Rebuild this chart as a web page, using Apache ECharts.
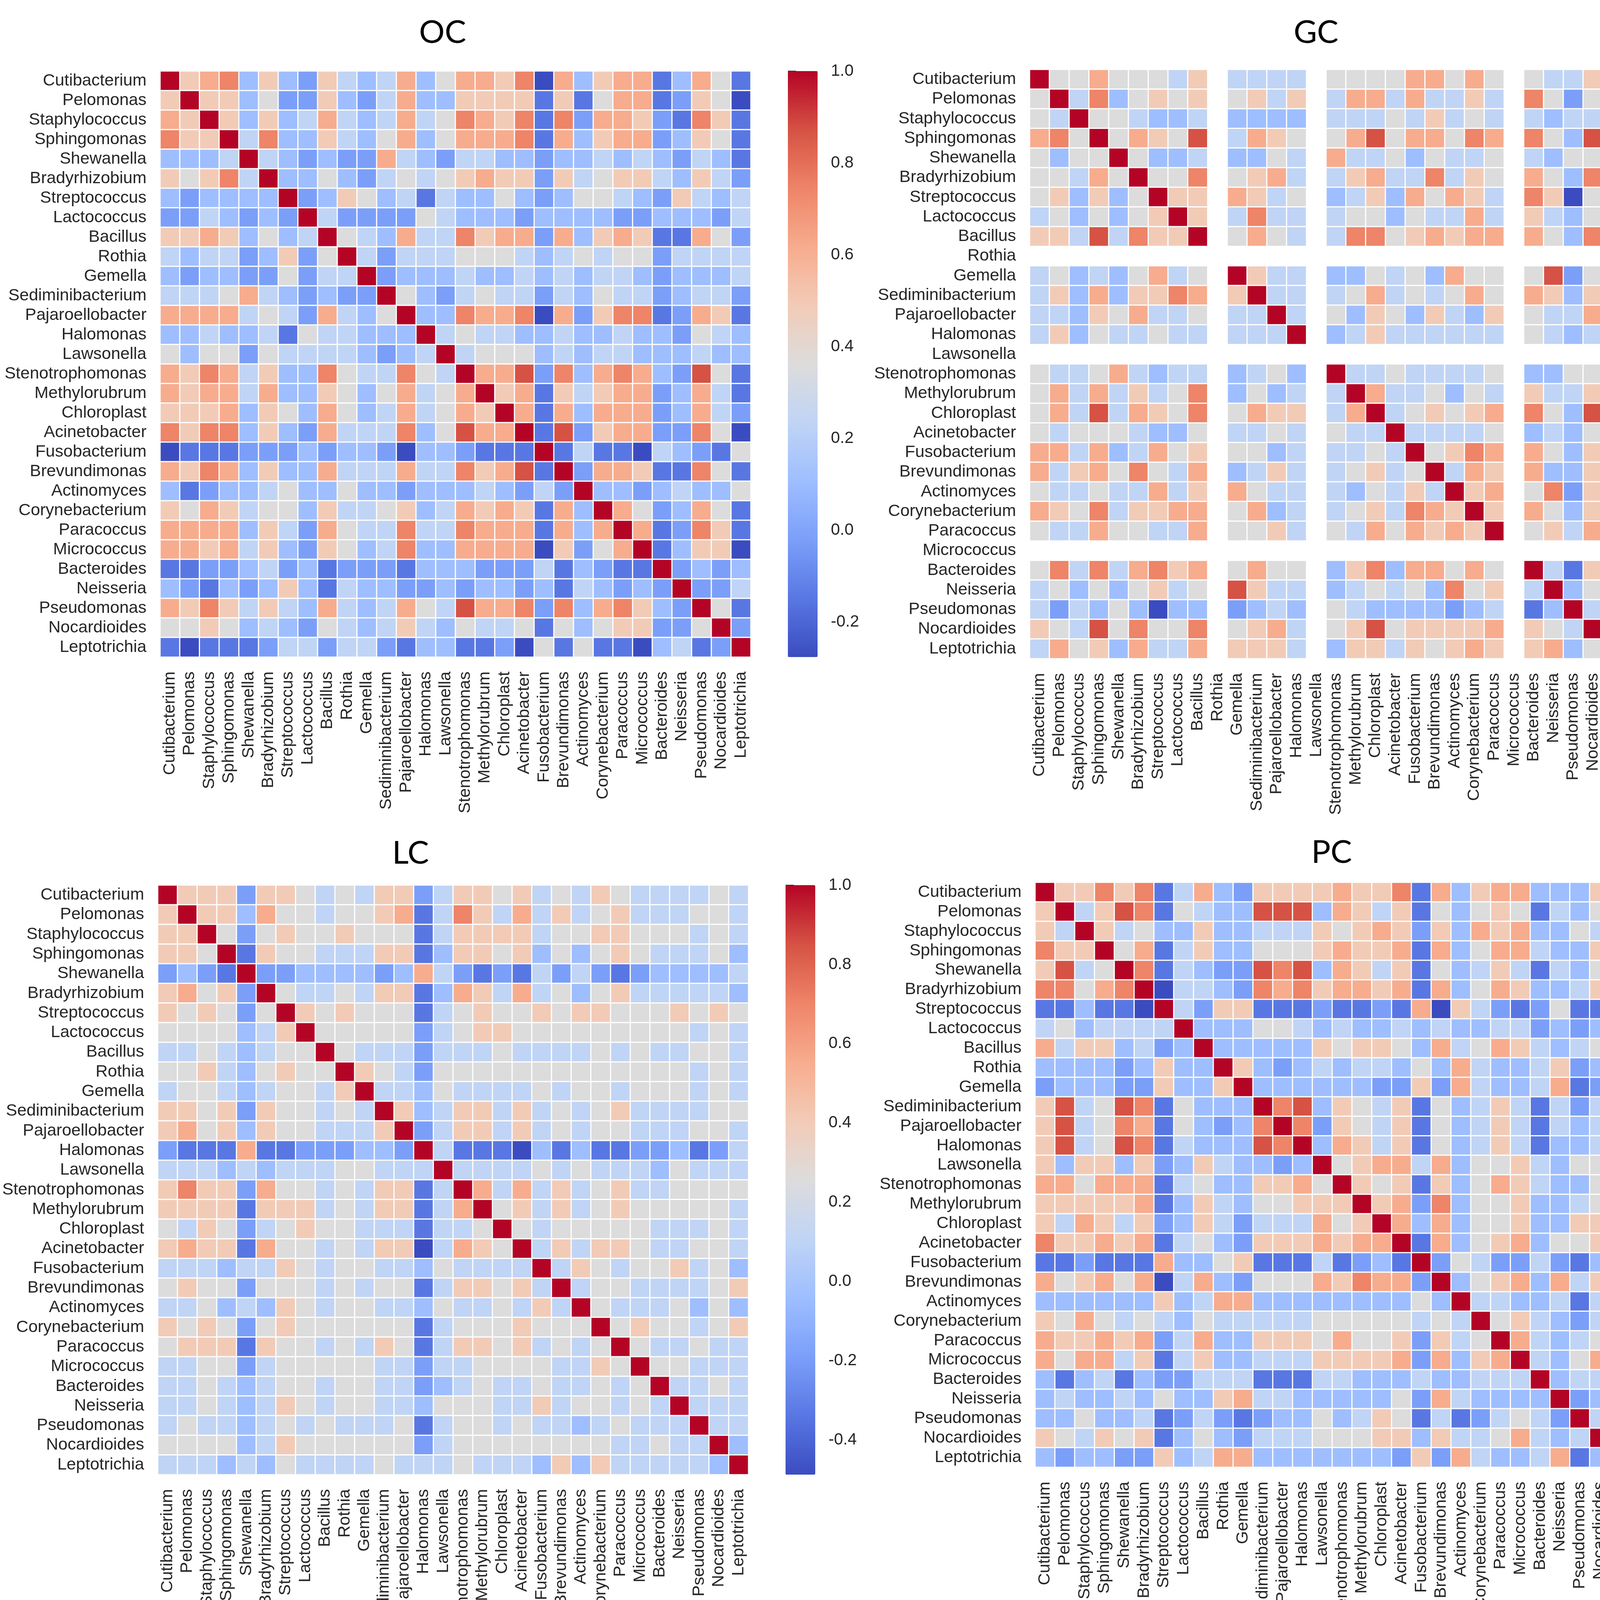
<!DOCTYPE html>
<html>
<head>
<meta charset="utf-8">
<script src="https://cdn.jsdelivr.net/npm/echarts@6/dist/echarts.min.js"></script>
<style>
  html, body { margin: 0; padding: 0; background: #fff; }
  #main { width: 4500px; height: 6285px; }
</style>
</head>
<body>
<div id="main"></div>
<script>
// 30 taxa, same order on both axes of every panel
var taxa = ['Cutibacterium','Pelomonas','Staphylococcus','Sphingomonas','Shewanella','Bradyrhizobium',
  'Streptococcus','Lactococcus','Bacillus','Rothia','Gemella','Sediminibacterium','Pajaroellobacter',
  'Halomonas','Lawsonella','Stenotrophomonas','Methylorubrum','Chloroplast','Acinetobacter',
  'Fusobacterium','Brevundimonas','Actinomyces','Corynebacterium','Paracoccus','Micrococcus',
  'Bacteroides','Neisseria','Pseudomonas','Nocardioides','Leptotrichia'];

// lower triangle of each correlation matrix, one string per row (row i = columns 0..i)
var ocRows = ['X','6X','76X','866X','3334X','65684X','323333X','2243232X','66763534X','434423625X',
  '3233225244X','44457432322X','777745427435X','3343341544333X','53552544443234X','768746338544854X',
  '7677473365357457X','66673653753474576X','868836327444835977X','0111222323320332111X',
  '76873633744474486791X','312334533533233343242X','6576455364456347676173X','77773642754484487771737X',
  '776746326534833777706257X','1122342312221333222413211X','32132363143322323323143232X',
  '768646437434754977828378632X','5565343254346435445153566225X','10111244244213311205151103412X'];
var gcRows = ['X','5X','54X','785X','5355X','55475X','563635X','4535356X','66494866X','..........',
  '453435745.X','463736687.6X','443657445.44X','463544544.444X','...............',
  '544574344.3453.X','574746458.3534.4X','574947658.5766.47X','545554335.4454.544X',
  '774734756.5534.4454X','746758547.3464.45645X','544544746.7544.435464X','765846677.5734.4564876X',
  '544755447.5564.54757676X','.........................','584847867.5755.368377575.X',
  '453535645.9644.345453856.4X','424353033.2343.543333234.13X','654958558.5674.569566667.654X',
  '475637447.6664.366465676.6735X'];
var lcRows = ['X','6X','66X','665X','2321X','67562X','656525X','5555346X','44543455X','556435655X',
  '4554345546X','66562655454X','675636554446X','2111711222332X','44434344455444X','686627554546614X',
  '6666166645466147X','54652456554441445X','676617554546604765X','4443446545544354444X',
  '56552555454551466564X','445343654554435445464X','6565256555555145556555X','56661655454651466564545X',
  '445524555554424455554465X','4454345545544234544544545X','44543465455443555446455454X',
  '454434545444514554544345444X','5555346555555245555555544544X','44434354444544454443636444443X'];
var pcRows = ['X','6X','64X','866X','6945X','88578X','113110X','4534444X','74663423X','333323633X',
  '2333226336X','69459815333X','694587153238X','6945981433398X','63663623643323X','775777145336675X',
  '6666671364355666X','64764623642444756X','866767145326667677X','1121117335611141231X',
  '75675704732555768772X','333333634773333333353X','6575454354444455555454X','76676724733666575562645X',
  '757746146334446666727367X','3134132244411144333433444X','34334353367443333352743333X',
  '335334124212335346514124542X','6546561353244455566364457434X','32332263477333333326274334713X'];
var bcaRows = ['X','..','1.X','4.1X','.....','3.24.X','3.23.0X','........','4.21.11.X','..........',
  '...........','............','.............','1.23.41.1....X','5.15.43.1....1X','1.21.41.1....11X',
  '1.33.30.1....511X','4.33.13.4....1413X','1.33.23.1....32143X','1.04.13.1....111130X',
  '1.11.32.1....6111031X','1.01.11.1....11153111X','3.41.21.1....231233131X','5.23.31.5....1411301112X',
  '1.14.41.1....41141211111X','3.03.22.0....120033020131X','...........................',
  '0.31.31.1....2114133113150.X','1.11.14.1....1111341123113.1X','..............................'];
var ncRows = ['X','7X','54X','785X','1030X','79480X','546524X','4454345X','33433355X','445434554X',
  '4444345545X','68570844344X','784718443447X','2121812333313X','44444445444444X','794809443448824X',
  '7847184434478248X','54553455444443445X','784808443447704875X','3343335555533343343X',
  '77471744344761477583X','435333655553334334364X','5565245444454245545454X','66462644444673466563544X',
  '445434544444434444444555X','2243225554432342232725434X','44443455455443444444454444X',
  '564536444445634664534446434X','5445355445455345544444454444X','33434354555334433436464555544X'];

// colour bar ranges and tick labels
var ocRange = [-0.276, 1.0], ocTicks = [-0.2, 0.0, 0.2, 0.4, 0.6, 0.8, 1.0];
var gcRange = [-0.62, 1.0], gcTicks = [-0.6, -0.4, -0.2, 0.0, 0.2, 0.4, 0.6, 0.8, 1.0];
var lcRange = [-0.487, 1.0], lcTicks = [-0.4, -0.2, 0.0, 0.2, 0.4, 0.6, 0.8, 1.0];
var pcRange = [-0.435, 1.0], pcTicks = [-0.4, -0.2, 0.0, 0.2, 0.4, 0.6, 0.8, 1.0];
var bcaRange = [-0.183, 1.0], bcaTicks = [0.0, 0.2, 0.4, 0.6, 0.8, 1.0];
var ncRange = [-0.54, 1.0], ncTicks = [-0.4, -0.2, 0.0, 0.2, 0.4, 0.6, 0.8, 1.0];

var coolwarm = ['#3b4cc0','#5977e3','#7b9ff9','#9ebeff','#c0d4f5','#dddcdc',
  '#f2cbb7','#f7ac8e','#ee8468','#d65244','#b40426'];

var FONT = 'Liberation Sans, Arial, sans-serif';
var INK = '#262626';

// panel boxes: heat map grid, colour bar, title position
var panels = [
  { name: 'OC',  rows: ocRows,  range: ocRange,  ticks: ocTicks,  left: 410,  top: 182,  w: 1512, h: 1500, cb: 2017, tx: 1133, ty: 84 },
  { name: 'GC',  rows: gcRows,  range: gcRange,  ticks: gcTicks,  left: 2636, top: 178,  w: 1518, h: 1508, cb: 4249, tx: 3369, ty: 84 },
  { name: 'LC',  rows: lcRows,  range: lcRange,  ticks: lcTicks,  left: 404,  top: 2266, w: 1512, h: 1509, cb: 2011, tx: 1051, ty: 2185 },
  { name: 'PC',  rows: pcRows,  range: pcRange,  ticks: pcTicks,  left: 2650, top: 2259, w: 1521, h: 1497, cb: 4266, tx: 3409, ty: 2183 },
  { name: 'Bca', rows: bcaRows, range: bcaRange, ticks: bcaTicks, left: 426,  top: 4355, w: 1512, h: 1503, cb: 2033, tx: 1092, ty: 4281 },
  { name: 'NC',  rows: ncRows,  range: ncRange,  ticks: ncTicks,  left: 2647, top: 4360, w: 1512, h: 1504, cb: 4254, tx: 3416, ty: 4281 }
];

function cellValue(ch, lo, hi) {
  if (ch === 'X') return hi;
  if (ch === '.') return null;
  var d = parseInt(ch, 10);
  return Math.round((lo + d / 10 * (hi - lo)) * 1000) / 1000;
}

// mirror the lower triangle into a full symmetric matrix
function buildCells(rows, lo, hi) {
  var cells = [];
  for (var i = 0; i < rows.length; i++) {
    for (var j = 0; j < rows[i].length && j <= i; j++) {
      var v = cellValue(rows[i].charAt(j), lo, hi);
      if (v === null) continue;
      cells.push([j, i, v]);
      if (i !== j) cells.push([i, j, v]);
    }
  }
  return cells;
}

var grid = [], xAxis = [], yAxis = [], series = [], visualMap = [], graphic = [];
var n = panels.length;

panels.forEach(function (p, k) {
  grid.push({ left: p.left, top: p.top, width: p.w, height: p.h });
  xAxis.push({
    type: 'category', gridIndex: k, data: taxa, position: 'bottom',
    axisLine: { show: false }, axisTick: { show: false }, splitLine: { show: false },
    axisLabel: { rotate: 90, interval: 0, margin: 37, fontSize: 43, color: INK, fontFamily: FONT }
  });
  yAxis.push({
    type: 'category', gridIndex: k, data: taxa, inverse: true,
    axisLine: { show: false }, axisTick: { show: false }, splitLine: { show: false },
    axisLabel: { interval: 0, margin: 35, fontSize: 43, color: INK, fontFamily: FONT }
  });
  series.push({
    type: 'heatmap', name: p.name, xAxisIndex: k, yAxisIndex: k,
    data: buildCells(p.rows, p.range[0], p.range[1]),
    itemStyle: { borderColor: '#ffffff', borderWidth: 3 },
    emphasis: { disabled: true },
    progressive: 0
  });
  visualMap.push({
    type: 'continuous', seriesIndex: k, min: p.range[0], max: p.range[1],
    calculable: false, hoverLink: false, realtime: false,
    orient: 'vertical', left: p.cb, top: p.top, padding: 0,
    itemWidth: 76, itemHeight: p.h, text: null, showLabel: false,
    inRange: { color: coolwarm }
  });
  graphic.push({
    type: 'text', x: p.tx, y: p.ty,
    style: { text: p.name, fontSize: 82, fontFamily: 'Lato, Liberation Sans, sans-serif',
      fill: '#000', align: 'center', verticalAlign: 'middle' }
  });
});

// colour bar tick axes, laid over each visualMap bar
panels.forEach(function (p, k) {
  var g = n + k;
  grid.push({ left: p.cb, top: p.top, width: 76, height: p.h });
  xAxis.push({ type: 'value', gridIndex: g, show: false });
  yAxis.push({
    type: 'value', gridIndex: g, position: 'right', min: p.range[0], max: p.range[1],
    axisLine: { show: false }, splitLine: { show: false },
    axisTick: { show: true, length: 21, customValues: p.ticks, lineStyle: { color: INK, width: 3 } },
    axisLabel: {
      customValues: p.ticks, margin: 34, fontSize: 42, color: INK, fontFamily: FONT,
      formatter: function (v) { return v.toFixed(1); }
    }
  });
});

var chart = echarts.init(document.getElementById('main'), null, { renderer: 'canvas', devicePixelRatio: 1 });
chart.setOption({
  animation: false,
  backgroundColor: '#ffffff',
  grid: grid,
  xAxis: xAxis,
  yAxis: yAxis,
  visualMap: visualMap,
  series: series,
  graphic: graphic
});
</script>
</body>
</html>
